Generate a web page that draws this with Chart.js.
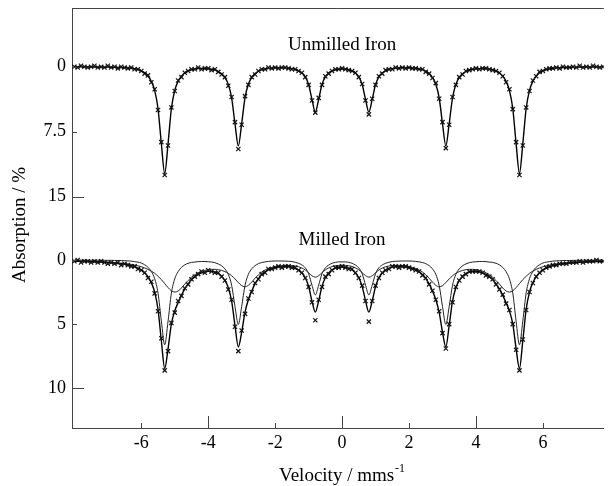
<!DOCTYPE html>
<html>
<head>
<meta charset="utf-8">
<title>Mössbauer spectra - unmilled and milled iron</title>
<script src="https://cdn.jsdelivr.net/npm/chart.js@4.4.1/dist/chart.umd.min.js"></script>
<style>
  html, body { margin: 0; padding: 0; background: #fff; }
  canvas { display: block; }
</style>
</head>
<body>
<canvas id="spectra" width="609" height="486"></canvas>
<script>
// velocity channels (mm/s)
const velocity = [
  -8, -7.9, -7.8, -7.7, -7.6, -7.5, -7.4, -7.3, -7.2, -7.1,
  -7, -6.9, -6.8, -6.7, -6.6, -6.5, -6.4, -6.3, -6.2, -6.1,
  -6, -5.9, -5.8, -5.7, -5.6, -5.5, -5.4, -5.3, -5.2, -5.1,
  -5, -4.9, -4.8, -4.7, -4.6, -4.5, -4.4, -4.3, -4.2, -4.1,
  -4, -3.9, -3.8, -3.7, -3.6, -3.5, -3.4, -3.3, -3.2, -3.1,
  -3, -2.9, -2.8, -2.7, -2.6, -2.5, -2.4, -2.3, -2.2, -2.1,
  -2, -1.9, -1.8, -1.7, -1.6, -1.5, -1.4, -1.3, -1.2, -1.1,
  -1, -0.9, -0.8, -0.7, -0.6, -0.5, -0.4, -0.3, -0.2, -0.1,
  0,
  0.1, 0.2, 0.3, 0.4, 0.5, 0.6, 0.7, 0.8, 0.9, 1,
  1.1, 1.2, 1.3, 1.4, 1.5, 1.6, 1.7, 1.8, 1.9, 2,
  2.1, 2.2, 2.3, 2.4, 2.5, 2.6, 2.7, 2.8, 2.9, 3,
  3.1, 3.2, 3.3, 3.4, 3.5, 3.6, 3.7, 3.8, 3.9, 4,
  4.1, 4.2, 4.3, 4.4, 4.5, 4.6, 4.7, 4.8, 4.9, 5,
  5.1, 5.2, 5.3, 5.4, 5.5, 5.6, 5.7, 5.8, 5.9, 6,
  6.1, 6.2, 6.3, 6.4, 6.5, 6.6, 6.7, 6.8, 6.9, 7,
  7.1, 7.2, 7.3, 7.4, 7.5, 7.6, 7.7, 7.8
];

// unmilled iron, absorption %
const unmilledData = [
  0.0, 0.1, -0.1, 0.0, 0.1, 0.0, -0.1, 0.1, 0.0, 0.1,
  -0.1, 0.1, 0.0, 0.2, 0.0, 0.1, 0.2, 0.1, 0.3, 0.3,
  0.5, 0.8, 1.0, 1.8, 2.6, 5.0, 8.7, 12.5, 9.1, 4.7,
  2.8, 1.6, 1.2, 0.7, 0.5, 0.3, 0.3, 0.1, 0.3, 0.2,
  0.2, 0.4, 0.3, 0.6, 0.9, 1.2, 2.2, 3.5, 6.4, 9.5,
  6.7, 3.4, 2.1, 1.2, 0.9, 0.5, 0.3, 0.3, 0.1, 0.2,
  0.1, 0.2, 0.1, 0.1, 0.2, 0.3, 0.3, 0.5, 0.7, 1.2,
  2.1, 3.9, 5.3, 3.6, 2.1, 1.1, 0.8, 0.5, 0.3, 0.3,
  0.2,
  0.3, 0.4, 0.5, 0.7, 1.2, 2.0, 3.9, 5.5, 3.7, 2.1,
  1.1, 0.8, 0.4, 0.3, 0.3, 0.1, 0.2, 0.1, 0.2, 0.1,
  0.2, 0.2, 0.3, 0.3, 0.6, 0.8, 1.3, 1.9, 3.7, 6.4,
  9.4, 6.7, 3.5, 2.1, 1.2, 0.9, 0.5, 0.4, 0.3, 0.2,
  0.3, 0.2, 0.2, 0.3, 0.4, 0.5, 0.7, 1.1, 1.8, 2.6,
  4.9, 8.7, 12.5, 9.1, 4.7, 2.8, 1.6, 1.1, 0.6, 0.5,
  0.3, 0.2, 0.2, 0.1, 0.2, 0.0, 0.1, 0.1, 0.0, 0.1,
  -0.1, 0.1, 0.0, 0.1, -0.1, 0.0, 0.1, 0.0
];
const unmilledFit = [
  0.02, 0.02, 0.02, 0.03, 0.03, 0.03, 0.03, 0.04, 0.04, 0.05,
  0.05, 0.06, 0.07, 0.08, 0.09, 0.12, 0.14, 0.18, 0.24, 0.33,
  0.45, 0.70, 1.07, 1.68, 2.73, 4.82, 8.88, 12.32, 8.88, 4.82,
  2.74, 1.69, 1.09, 0.72, 0.48, 0.36, 0.28, 0.23, 0.21, 0.22,
  0.25, 0.30, 0.38, 0.56, 0.82, 1.28, 2.04, 3.59, 6.58, 9.14,
  6.56, 3.56, 2.02, 1.25, 0.79, 0.52, 0.34, 0.26, 0.19, 0.16,
  0.13, 0.13, 0.13, 0.14, 0.18, 0.22, 0.33, 0.47, 0.73, 1.17,
  2.05, 3.76, 5.24, 3.77, 2.06, 1.18, 0.74, 0.49, 0.36, 0.27,
  0.26,
  0.27, 0.36, 0.49, 0.74, 1.18, 2.06, 3.77, 5.24, 3.76, 2.05,
  1.17, 0.73, 0.47, 0.33, 0.22, 0.18, 0.14, 0.13, 0.13, 0.13,
  0.16, 0.19, 0.26, 0.34, 0.52, 0.79, 1.25, 2.02, 3.56, 6.56,
  9.14, 6.58, 3.59, 2.04, 1.28, 0.82, 0.56, 0.38, 0.30, 0.25,
  0.22, 0.21, 0.23, 0.28, 0.36, 0.48, 0.72, 1.09, 1.69, 2.74,
  4.82, 8.88, 12.32, 8.88, 4.82, 2.73, 1.68, 1.07, 0.70, 0.45,
  0.33, 0.24, 0.18, 0.14, 0.12, 0.09, 0.08, 0.07, 0.06, 0.05,
  0.05, 0.04, 0.04, 0.03, 0.03, 0.03, 0.03, 0.02
];

// milled iron, absorption %
const milledData = [
  0.1, 0.0, 0.2, 0.1, 0.1, 0.2, 0.1, 0.2, 0.1, 0.2,
  0.3, 0.2, 0.3, 0.2, 0.4, 0.3, 0.4, 0.5, 0.5, 0.7,
  0.8, 1.0, 1.4, 1.7, 2.6, 4.0, 6.1, 8.6, 7.1, 4.9,
  4.1, 3.2, 2.8, 2.2, 1.9, 1.5, 1.3, 1.1, 0.9, 1.0,
  0.8, 0.9, 1.0, 1.0, 1.3, 1.6, 2.3, 3.1, 5.2, 7.1,
  5.5, 4.2, 3.0, 2.5, 1.8, 1.5, 1.1, 1.0, 0.7, 0.7,
  0.6, 0.5, 0.6, 0.5, 0.5, 0.6, 0.6, 0.8, 1.0, 1.4,
  2.1, 3.3, 4.7, 3.1, 2.1, 1.3, 1.1, 0.8, 0.6, 0.6,
  0.5,
  0.6, 0.7, 0.7, 1.0, 1.4, 2.0, 3.2, 4.8, 3.2, 2.0,
  1.4, 1.0, 0.8, 0.7, 0.5, 0.5, 0.6, 0.5, 0.5, 0.6,
  0.7, 0.8, 0.9, 1.2, 1.4, 1.9, 2.4, 3.1, 4.0, 5.7,
  6.9, 5.0, 3.3, 2.1, 1.6, 1.3, 1.1, 0.9, 0.9, 0.9,
  0.9, 1.0, 1.2, 1.3, 1.5, 1.9, 2.3, 2.7, 3.4, 3.9,
  5.0, 7.0, 8.6, 6.2, 3.9, 2.5, 1.8, 1.3, 1.0, 0.8,
  0.6, 0.5, 0.4, 0.4, 0.3, 0.3, 0.3, 0.2, 0.2, 0.2,
  0.1, 0.2, 0.1, 0.1, 0.1, 0.0, 0.1, 0.1
];
const milledFit = [
  0.10, 0.10, 0.11, 0.12, 0.13, 0.14, 0.15, 0.16, 0.17, 0.19,
  0.20, 0.22, 0.25, 0.27, 0.30, 0.34, 0.38, 0.44, 0.53, 0.63,
  0.77, 0.99, 1.30, 1.77, 2.50, 3.85, 6.29, 8.45, 6.92, 4.98,
  3.97, 3.33, 2.76, 2.26, 1.86, 1.54, 1.31, 1.13, 1.00, 0.93,
  0.89, 0.89, 0.94, 1.07, 1.26, 1.61, 2.16, 3.20, 5.10, 6.78,
  5.62, 4.06, 3.09, 2.41, 1.86, 1.45, 1.14, 0.93, 0.77, 0.67,
  0.59, 0.55, 0.52, 0.51, 0.52, 0.56, 0.65, 0.79, 1.02, 1.39,
  2.07, 3.19, 4.06, 3.18, 2.06, 1.39, 1.02, 0.77, 0.64, 0.57,
  0.56,
  0.57, 0.64, 0.77, 1.02, 1.39, 2.06, 3.18, 4.06, 3.19, 2.07,
  1.39, 1.02, 0.79, 0.65, 0.56, 0.52, 0.51, 0.52, 0.55, 0.59,
  0.67, 0.77, 0.93, 1.14, 1.45, 1.86, 2.41, 3.09, 4.06, 5.62,
  6.78, 5.10, 3.20, 2.16, 1.61, 1.26, 1.07, 0.94, 0.89, 0.89,
  0.93, 1.00, 1.13, 1.31, 1.54, 1.86, 2.26, 2.76, 3.33, 3.97,
  4.98, 6.92, 8.45, 6.29, 3.85, 2.50, 1.77, 1.30, 0.99, 0.77,
  0.63, 0.53, 0.44, 0.38, 0.34, 0.30, 0.27, 0.25, 0.22, 0.20,
  0.19, 0.17, 0.16, 0.15, 0.14, 0.13, 0.12, 0.11
];
// sharp (bcc) sextet sub-spectrum
const milledSharp = [
  0.01, 0.01, 0.01, 0.01, 0.02, 0.02, 0.02, 0.02, 0.02, 0.03,
  0.03, 0.03, 0.04, 0.04, 0.05, 0.06, 0.07, 0.09, 0.13, 0.17,
  0.24, 0.37, 0.57, 0.90, 1.46, 2.58, 4.76, 6.61, 4.77, 2.58,
  1.47, 0.91, 0.58, 0.38, 0.26, 0.19, 0.16, 0.13, 0.12, 0.12,
  0.14, 0.16, 0.21, 0.31, 0.45, 0.70, 1.12, 1.97, 3.62, 5.02,
  3.62, 1.97, 1.12, 0.69, 0.44, 0.29, 0.20, 0.15, 0.11, 0.09,
  0.08, 0.08, 0.08, 0.09, 0.10, 0.12, 0.18, 0.26, 0.39, 0.61,
  1.07, 1.96, 2.72, 1.96, 1.07, 0.62, 0.40, 0.26, 0.19, 0.15,
  0.15,
  0.15, 0.19, 0.26, 0.40, 0.62, 1.07, 1.96, 2.72, 1.96, 1.07,
  0.61, 0.39, 0.26, 0.18, 0.12, 0.10, 0.09, 0.08, 0.08, 0.08,
  0.09, 0.11, 0.15, 0.20, 0.29, 0.44, 0.69, 1.12, 1.97, 3.62,
  5.02, 3.62, 1.97, 1.12, 0.70, 0.45, 0.31, 0.21, 0.16, 0.14,
  0.12, 0.12, 0.13, 0.16, 0.19, 0.26, 0.38, 0.58, 0.91, 1.47,
  2.58, 4.77, 6.61, 4.76, 2.58, 1.46, 0.90, 0.57, 0.37, 0.24,
  0.17, 0.13, 0.09, 0.07, 0.06, 0.05, 0.04, 0.04, 0.03, 0.03,
  0.03, 0.02, 0.02, 0.02, 0.02, 0.02, 0.01, 0.01
];
// broad (grain boundary) sextet sub-spectrum
const milledBroad = [
  0.09, 0.09, 0.10, 0.11, 0.11, 0.12, 0.13, 0.14, 0.15, 0.16,
  0.17, 0.19, 0.21, 0.23, 0.25, 0.28, 0.31, 0.35, 0.40, 0.46,
  0.53, 0.62, 0.73, 0.87, 1.04, 1.27, 1.53, 1.84, 2.15, 2.40,
  2.50, 2.42, 2.18, 1.88, 1.60, 1.35, 1.15, 1.00, 0.88, 0.81,
  0.75, 0.73, 0.73, 0.76, 0.81, 0.91, 1.04, 1.23, 1.48, 1.76,
  2.00, 2.09, 1.97, 1.72, 1.42, 1.16, 0.94, 0.78, 0.66, 0.58,
  0.51, 0.47, 0.44, 0.42, 0.42, 0.44, 0.47, 0.53, 0.63, 0.78,
  1.00, 1.23, 1.34, 1.22, 0.99, 0.77, 0.62, 0.51, 0.45, 0.42,
  0.41,
  0.42, 0.45, 0.51, 0.62, 0.77, 0.99, 1.22, 1.34, 1.23, 1.00,
  0.78, 0.63, 0.53, 0.47, 0.44, 0.42, 0.42, 0.44, 0.47, 0.51,
  0.58, 0.66, 0.78, 0.94, 1.16, 1.42, 1.72, 1.97, 2.09, 2.00,
  1.76, 1.48, 1.23, 1.04, 0.91, 0.81, 0.76, 0.73, 0.73, 0.75,
  0.81, 0.88, 1.00, 1.15, 1.35, 1.60, 1.88, 2.18, 2.42, 2.50,
  2.40, 2.15, 1.84, 1.53, 1.27, 1.04, 0.87, 0.73, 0.62, 0.53,
  0.46, 0.40, 0.35, 0.31, 0.28, 0.25, 0.23, 0.21, 0.19, 0.17,
  0.16, 0.15, 0.14, 0.13, 0.12, 0.11, 0.11, 0.10
];

const velocityTicks = [-6, -4, -2, 0, 2, 4, 6];
const unmilledTicks = [0, 7.5, 15];
const milledTicks = [0, 5, 10];

const serif = "'Liberation Serif', 'Times New Roman', serif";
const ink = '#000';
const axisInk = '#444';

const toPoints = (ys) => velocity.map((v, i) => ({ x: v, y: ys[i] }));

const fitLine = (ys, axis, width, color) => ({
  type: 'line',
  data: toPoints(ys),
  yAxisID: axis,
  borderColor: color,
  borderWidth: width,
  pointRadius: 0,
  cubicInterpolationMode: 'monotone',
  fill: false
});

const markers = (ys, axis) => ({
  type: 'line',
  data: toPoints(ys),
  yAxisID: axis,
  showLine: false,
  pointStyle: 'crossRot',
  pointRadius: 3,
  borderColor: '#111',
  backgroundColor: '#111',
  borderWidth: 1.2
});

const fixedTicks = (values) => (scale) => {
  scale.ticks = values.map(v => ({ value: v }));
};

// inward tick marks, top frame line, titles and panel labels
const axisDecor = {
  id: 'axisDecor',
  afterDraw(chart) {
    const { ctx, chartArea: area, scales } = chart;
    const x = scales.x;
    const yTop = scales.yTop;
    const yBot = scales.yBot;

    ctx.save();
    ctx.strokeStyle = axisInk;
    ctx.lineWidth = 1;
    ctx.beginPath();
    ctx.moveTo(area.left, Math.round(area.top) + 0.5);
    ctx.lineTo(area.right, Math.round(area.top) + 0.5);
    velocityTicks.forEach(v => {
      const px = Math.round(x.getPixelForValue(v)) + 0.5;
      const len = v % 4 === 0 ? 12 : 5;
      ctx.moveTo(px, area.bottom);
      ctx.lineTo(px, area.bottom - len);
    });
    [[yTop, unmilledTicks, 15], [yBot, milledTicks, 10]].forEach(([scale, ticks, longTick]) => {
      ticks.forEach(t => {
        const py = Math.round(scale.getPixelForValue(t)) + 0.5;
        const len = t === longTick ? 12 : 5;
        ctx.moveTo(area.left, py);
        ctx.lineTo(area.left + len, py);
      });
    });
    ctx.stroke();

    ctx.fillStyle = ink;
    const cx = x.getPixelForValue(0);

    // panel labels
    ctx.font = '19px ' + serif;
    ctx.textAlign = 'center';
    ctx.textBaseline = 'middle';
    ctx.fillText('Unmilled Iron', cx, yTop.getPixelForValue(-2.5));
    ctx.fillText('Milled Iron', cx, yBot.getPixelForValue(-1.55));

    // x axis title with superscript
    const main = 'Velocity / mms';
    const sup = '-1';
    ctx.textBaseline = 'alphabetic';
    ctx.textAlign = 'left';
    ctx.font = '19px ' + serif;
    const w1 = ctx.measureText(main).width;
    ctx.font = '12px ' + serif;
    const w2 = ctx.measureText(sup).width;
    const start = cx - (w1 + w2 + 1) / 2;
    ctx.font = '19px ' + serif;
    ctx.fillText(main, start, 481);
    ctx.font = '12px ' + serif;
    ctx.fillText(sup, start + w1 + 1, 472);

    // y axis title
    ctx.translate(25, 225);
    ctx.rotate(-Math.PI / 2);
    ctx.textAlign = 'center';
    ctx.font = '19px ' + serif;
    ctx.fillText('Absorption / %', 0, 0);
    ctx.restore();
  }
};

const tickFont = { family: serif, size: 18 };

new Chart(document.getElementById('spectra'), {
  data: {
    datasets: [
      markers(unmilledData, 'yTop'),
      fitLine(unmilledFit, 'yTop', 1.4, ink),
      markers(milledData, 'yBot'),
      fitLine(milledFit, 'yBot', 1.4, ink),
      fitLine(milledSharp, 'yBot', 1, '#222'),
      fitLine(milledBroad, 'yBot', 1, '#222')
    ]
  },
  options: {
    responsive: false,
    animation: false,
    events: [],
    devicePixelRatio: 1,
    layout: { padding: { top: 8, left: 0, right: 0, bottom: 0 } },
    plugins: {
      legend: { display: false },
      tooltip: { enabled: false }
    },
    scales: {
      x: {
        type: 'linear',
        min: -8.07,
        max: 7.82,
        grid: { display: false, drawTicks: false },
        border: { display: true, color: axisInk, width: 1 },
        afterBuildTicks: fixedTicks(velocityTicks),
        ticks: { font: tickFont, color: ink, padding: 4, callback: (v) => String(v) },
        afterFit: (s) => { s.height = 58; s.paddingLeft = 0; s.paddingRight = 0; }
      },
      yTop: {
        type: 'linear',
        position: 'left',
        stack: 'absorption',
        stackWeight: 220,
        weight: 2,
        reverse: true,
        min: -6.77,
        max: 18.61,
        grid: { display: false, drawTicks: false },
        border: { display: true, color: axisInk, width: 1 },
        afterBuildTicks: fixedTicks(unmilledTicks),
        ticks: { font: tickFont, color: ink, padding: 6, callback: (v) => String(v) },
        afterFit: (s) => { s.width = 72; s.paddingTop = 0; s.paddingBottom = 0; }
      },
      yBot: {
        type: 'linear',
        position: 'left',
        stack: 'absorption',
        stackWeight: 200,
        weight: 1,
        reverse: true,
        min: -2.49,
        max: 13.09,
        grid: { display: false, drawTicks: false },
        border: { display: true, color: axisInk, width: 1 },
        afterBuildTicks: fixedTicks(milledTicks),
        ticks: { font: tickFont, color: ink, padding: 6, callback: (v) => String(v) },
        afterFit: (s) => { s.width = 72; s.paddingTop = 0; s.paddingBottom = 0; }
      }
    }
  },
  plugins: [axisDecor]
});
</script>
</body>
</html>
